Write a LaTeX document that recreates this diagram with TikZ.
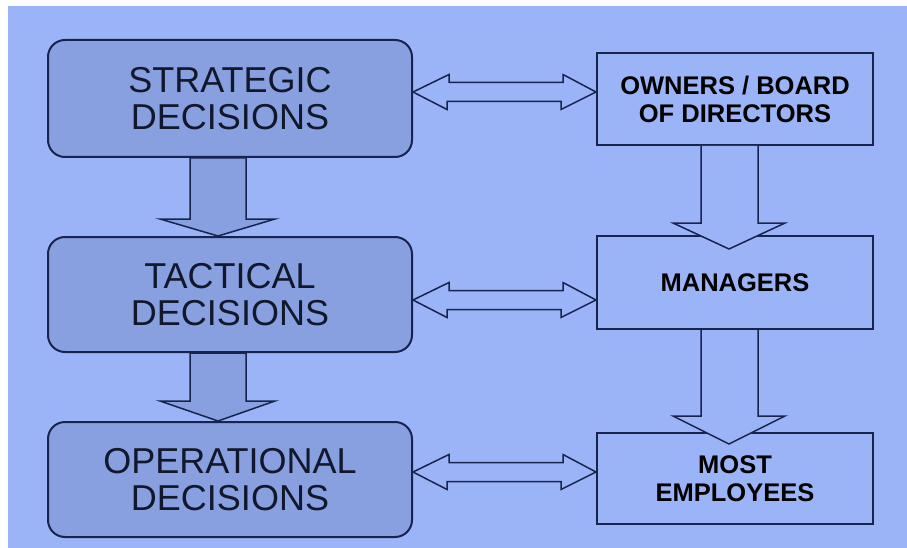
\documentclass[tikz,border=0pt]{standalone}
\usepackage{fontspec}
\setmainfont{Liberation Sans}
\usetikzlibrary{calc}
\definecolor{bgblue}{RGB}{154,180,247}
\definecolor{boxblue}{RGB}{136,159,224}
\definecolor{edge}{RGB}{24,36,78}
\definecolor{ink}{RGB}{18,24,44}
\begin{document}
\begin{tikzpicture}[x=1pt,y=-1pt,
  decbox/.style={draw=edge,line width=2pt,fill=boxblue,rounded corners=17pt,
    minimum width=364pt,align=center,text=ink,
    font=\fontsize{36}{37}\selectfont},
  grpbox/.style={draw=edge,line width=2pt,fill=bgblue,
    minimum width=276pt,align=center,text=black,
    font=\fontsize{25.5}{28}\selectfont\bfseries},
  darrow/.style={draw=edge,line width=1.5pt,fill=boxblue,line join=miter},
  rarrow/.style={draw=edge,line width=1.5pt,fill=bgblue,line join=miter},
  dblarrow/.style={draw=edge,line width=1.5pt,fill=bgblue,line join=miter}]
\useasboundingbox (0,0) rectangle (907,548);
\fill[white] (0,0) rectangle (907,548);
\fill[bgblue] (8,6) rectangle (907,548);

% left column
\node[decbox,minimum height=117pt] (s) at (230,98.5) {STRATEGIC\\DECISIONS};
\node[decbox,minimum height=115pt] (t) at (230,294.5) {TACTICAL\\DECISIONS};
\node[decbox,minimum height=115pt] (p) at (230,479.5) {OPERATIONAL\\DECISIONS};

% right column
\node[grpbox,minimum height=92pt] (o) at (735,99) {OWNERS / BOARD\\OF DIRECTORS};
\node[grpbox,minimum height=93pt] (m) at (735,282.5) {MANAGERS};
\node[grpbox,minimum height=91pt] (e) at (735,478.5) {MOST\\EMPLOYEES};

% left down arrows
\draw[darrow] ($(s.south)+(-40,0)$) -- ++(0,61) -- ++(-30,0) -- ++(58,17)
  -- ++(57,-17) -- ++(-29,0) -- ++(0,-61) -- cycle;
\draw[darrow] ($(t.south)+(-40,0)$) -- ++(0,48) -- ++(-30,0) -- ++(58,20)
  -- ++(57,-20) -- ++(-29,0) -- ++(0,-48) -- cycle;

% right down arrows
\draw[rarrow] ($(o.south)+(-34,0)$) -- ++(0,77) -- ++(-28,0) -- ++(56,26)
  -- ++(56,-26) -- ++(-27,0) -- ++(0,-77);
\draw[rarrow] ($(m.south)+(-34,0)$) -- ++(0,86) -- ++(-28,0) -- ++(56,28)
  -- ++(56,-28) -- ++(-27,0) -- ++(0,-86);

% double arrows
\draw[dblarrow] ($(s.east)+(0,-6.5)$) -- ++(36,-17.5) -- ++(0,8) -- ++(114,0)
  -- ++(0,-8) -- ($(o.west)+(0,-7)$) -- ++(-35,17.5) -- ++(0,-8) -- ++(-114,0)
  -- ++(0,8) -- cycle;
\draw[dblarrow] ($(t.east)+(0,5.5)$) -- ++(36,-17.5) -- ++(0,8) -- ++(114,0)
  -- ++(0,-8) -- ($(m.west)+(0,17.5)$) -- ++(-35,17.5) -- ++(0,-8) -- ++(-114,0)
  -- ++(0,8) -- cycle;
\draw[dblarrow] ($(p.east)+(0,-7.5)$) -- ++(36,-17.5) -- ++(0,8) -- ++(114,0)
  -- ++(0,-8) -- ($(e.west)+(0,-6.5)$) -- ++(-35,17.5) -- ++(0,-8) -- ++(-114,0)
  -- ++(0,8) -- cycle;
\end{tikzpicture}
\end{document}
